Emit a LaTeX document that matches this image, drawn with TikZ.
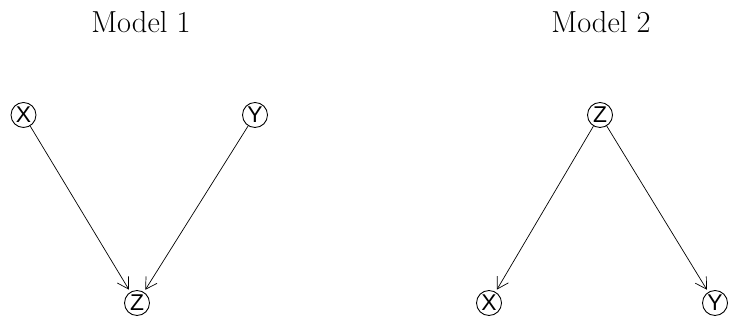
\documentclass[tikz,border=0pt]{standalone}
\usepackage{fontspec}
\newfontfamily\nodefont{Liberation Sans}
\usetikzlibrary{arrows.meta, positioning}
\tikzset{>={Straight Barb[length=2.2mm, width=2.6mm]}}
\tikzset{
	var/.style={shape=circle, draw, line width=0.5pt, minimum size=0.5cm, inner sep=0pt, font=\nodefont\fontsize{13}{14}\selectfont},
	title/.style={anchor=base, font=\fontsize{17.3}{20}\selectfont},
	edge/.style={->, line width=0.4pt, shorten >=1.5pt}
}

\begin{document}
\begin{tikzpicture}
	\useasboundingbox (0, 0) rectangle (14.58, 6.44);
	% Model 1: collider
	\node[title] (t1) at (2.82, 5.78){Model 1};
	\node[var] (x1) at (0.47, 4.14){X};
	\node[var] (y1) at (5.10, 4.14){Y};
	\node[var] (z1) at (2.74, 0.38){Z};
	\draw[edge] (x1) -- (z1);
	\draw[edge] (y1) -- (z1);
	% Model 2: fork
	\node[title] (t2) at (12.02, 5.78){Model 2};
	\node[var] (z2) at (12.00, 4.14){Z};
	\node[var] (x2) at (9.78, 0.38){X};
	\node[var] (y2) at (14.30, 0.38){Y};
	\draw[edge] (z2) -- (x2);
	\draw[edge] (z2) -- (y2);
\end{tikzpicture}
\end{document}
